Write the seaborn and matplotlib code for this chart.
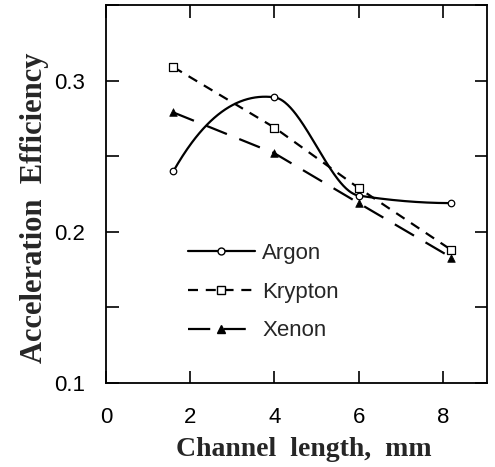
import numpy as np
import pandas as pd
import matplotlib
matplotlib.use("Agg")
import matplotlib.pyplot as plt
from matplotlib.lines import Line2D
from matplotlib.ticker import MultipleLocator
import seaborn as sns

# ---- data ----
channel_length = [1.6, 4.0, 6.0, 8.2]
argon = [0.240, 0.289, 0.224, 0.219]
krypton = [0.309, 0.269, 0.229, 0.188]
xenon = [0.279, 0.252, 0.219, 0.183]
x_ticks = [0, 2, 4, 6, 8]
y_ticks = [0.1, 0.2, 0.3]

sns.set_style("ticks")
plt.rcParams['font.family'] = ['Liberation Sans', 'DejaVu Sans']

fig = plt.figure(figsize=(4.95, 4.67), dpi=100)
ax = fig.add_axes([0.214, 0.180, 0.770, 0.809])


def smooth_curve(x, y, n=300):
    """Piecewise cubic Hermite curve through the points (PCHIP-style tangents,
    centred differences at local extrema so the peak can round over)."""
    x = np.asarray(x, float)
    y = np.asarray(y, float)
    k = len(x)
    h = np.diff(x)
    d = np.diff(y) / h
    m = np.zeros(k)
    for i in range(1, k - 1):
        if d[i - 1] * d[i] <= 0:
            m[i] = (y[i + 1] - y[i - 1]) / (x[i + 1] - x[i - 1])
        else:
            w1 = 2 * h[i] + h[i - 1]
            w2 = h[i] + 2 * h[i - 1]
            m[i] = (w1 + w2) / (w1 / d[i - 1] + w2 / d[i])

    def end(h0, h1, d0, d1):
        v = ((2 * h0 + h1) * d0 - h0 * d1) / (h0 + h1)
        if np.sign(v) != np.sign(d0):
            v = 0.0
        elif np.sign(d0) != np.sign(d1) and abs(v) > abs(3 * d0):
            v = 3 * d0
        return v

    m[0] = end(h[0], h[1], d[0], d[1])
    m[-1] = end(h[-1], h[-2], d[-1], d[-2])
    xs = np.linspace(x[0], x[-1], n)
    ys = np.empty_like(xs)
    for j, xv in enumerate(xs):
        i = int(np.clip(np.searchsorted(x, xv) - 1, 0, k - 2))
        t = (xv - x[i]) / h[i]
        h00 = 2 * t ** 3 - 3 * t ** 2 + 1
        h10 = t ** 3 - 2 * t ** 2 + t
        h01 = -2 * t ** 3 + 3 * t ** 2
        h11 = t ** 3 - t ** 2
        ys[j] = h00 * y[i] + h10 * h[i] * m[i] + h01 * y[i + 1] + h11 * h[i] * m[i + 1]
    return xs, ys


lw = 1.6
# Argon: smooth curve through the points
xs, ys = smooth_curve(channel_length, argon)
ax.plot(xs, ys, color='black', lw=lw, zorder=2)
sns.scatterplot(x=channel_length, y=argon, ax=ax, marker='o', s=22,
                facecolor='white', edgecolor='black', linewidth=0.9, zorder=3)

# Krypton
sns.lineplot(x=channel_length, y=krypton, ax=ax, color='black', lw=lw, zorder=2)
ax.lines[-1].set_dashes([4.5, 3.5])
sns.scatterplot(x=channel_length, y=krypton, ax=ax, marker='s', s=30,
                facecolor='white', edgecolor='black', linewidth=0.9, zorder=3)

# Xenon
sns.lineplot(x=channel_length, y=xenon, ax=ax, color='black', lw=lw, zorder=2)
ax.lines[-1].set_dashes([10, 6])
sns.scatterplot(x=channel_length, y=xenon, ax=ax, marker='^', s=30,
                color='black', edgecolor='black', linewidth=0.5, zorder=3)

ax.set_xlim(0, 9.05)
ax.set_ylim(0.1, 0.35)
ax.set_xticks(x_ticks)
ax.set_xticklabels([str(t) for t in x_ticks])
ax.set_yticks(y_ticks)
ax.set_yticklabels([f"{t:.1f}" for t in y_ticks])
ax.yaxis.set_minor_locator(MultipleLocator(0.05))
ax.tick_params(axis='both', which='both', direction='in', top=True, right=True,
               labelsize=16, width=1.2, colors='black')
ax.tick_params(axis='both', which='major', length=9)
ax.tick_params(axis='y', which='major', pad=15)
ax.tick_params(axis='y', which='minor', length=9)
ax.tick_params(axis='x', which='major', pad=17)
for sp in ax.spines.values():
    sp.set_linewidth(1.3)
    sp.set_color('black')

ax.set_xlabel("Channel  length,  mm", fontsize=20, fontweight='bold',
              family='Liberation Serif')
ax.set_ylabel("Acceleration  Efficiency", fontsize=22, fontweight='bold',
              family='Liberation Serif')
ax.xaxis.set_label_coords(0.52, -0.143)
ax.yaxis.set_label_coords(-0.15, 0.464)

handles = [
    Line2D([0], [0], color='black', lw=lw, marker='o', markersize=5,
           markerfacecolor='white', markeredgecolor='black'),
    Line2D([0], [0], color='black', lw=lw, dashes=[4.5, 3.5], marker='s',
           markersize=6, markerfacecolor='white', markeredgecolor='black'),
    Line2D([0], [0], color='black', lw=lw, dashes=[10, 6], marker='^',
           markersize=6, markerfacecolor='black', markeredgecolor='black'),
]
ax.legend(handles, ["Argon", "Krypton", "Xenon"], loc='upper left',
          bbox_to_anchor=(0.186, 0.40), frameon=False, fontsize=16,
          handlelength=3.0, handletextpad=0.35, labelspacing=0.8,
          borderpad=0.0)

fig.savefig("out.png", dpi=100)
